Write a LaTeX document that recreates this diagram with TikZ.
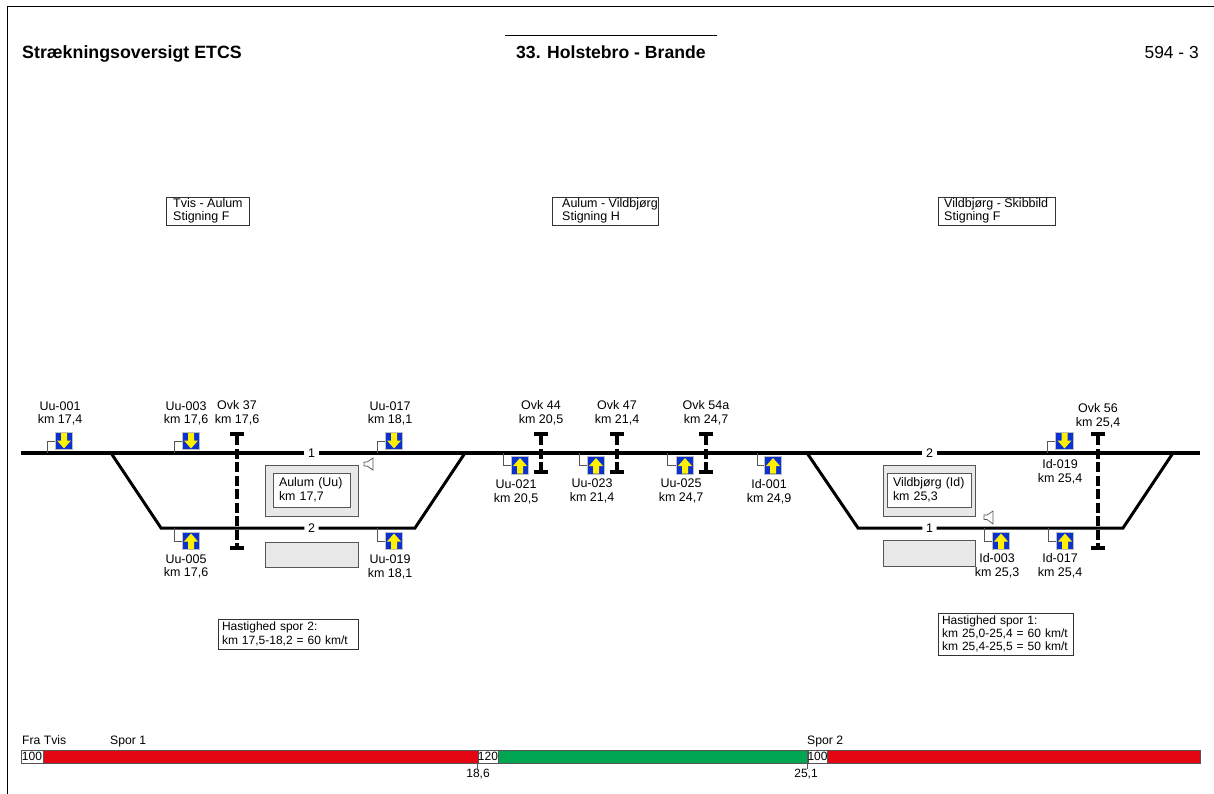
\documentclass[tikz,border=0pt]{standalone}
\usepackage{fontspec}
\setmainfont{Liberation Sans}
\usetikzlibrary{arrows.meta}
\definecolor{sigblue}{HTML}{0A32D2}
\definecolor{sigyellow}{HTML}{FFF000}
\definecolor{barred}{HTML}{E30613}
\definecolor{bargreen}{HTML}{00A651}
\definecolor{stngray}{HTML}{E8E8E8}
\definecolor{edgegray}{HTML}{555555}
\tikzset{
  lbl/.style={align=center,inner sep=0pt,font=\fontsize{12.5}{13.5}\selectfont},
  lblleft/.style={inner sep=0pt,anchor=base west,font=\fontsize{12.2}{13.5}\selectfont},
  track/.style={line width=4.5pt},
  siding/.style={line width=3pt,line join=miter},
  tracknum/.style={lbl,minimum width=14pt,minimum height=8pt},
  stub/.style={line width=0.9pt,draw=edgegray},
  signalbox/.style={minimum size=17.5pt,inner sep=0pt,fill=sigblue,draw=gray!50,line width=0.7pt},
  sigdown/.style={signalbox,path picture={\fill[sigyellow,shift={(path picture bounding box.center)}]
    (-3,-8) -- (3,-8) -- (3,-0.5) -- (7,-0.5) -- (0,7.5) -- (-7,-0.5) -- (-3,-0.5) -- cycle;}},
  sigup/.style={signalbox,path picture={\fill[sigyellow,shift={(path picture bounding box.center)}]
    (-3,8) -- (3,8) -- (3,0.5) -- (7,0.5) -- (0,-7.5) -- (-7,0.5) -- (-3,0.5) -- cycle;}},
  crossing/.style={line width=4pt,dash pattern=on 10pt off 3.5pt,{Bar[width=14pt,length=3.5pt]}-{Bar[width=14pt,length=3.5pt]}},
  stnbox/.style={draw=edgegray,fill=stngray,line width=0.8pt,inner sep=0pt},
  namebox/.style={draw=edgegray,fill=white,line width=0.8pt,inner sep=0pt,align=left,font=\fontsize{12.4}{13.5}\selectfont},
  infobox/.style={draw=black!80,fill=white,line width=0.8pt,inner sep=0pt,align=left,font=\fontsize{12.4}{13.5}\selectfont},
  speedbox/.style={infobox,font=\fontsize{12}{13.4}\selectfont},
  speedseg/.style={draw=edgegray,line width=0.8pt,inner sep=0pt,minimum height=13pt,font=\fontsize{12}{13}\selectfont},
  speaker/.style={draw=edgegray,line width=0.7pt,fill=white}
}
\begin{document}
\begin{tikzpicture}[x=1pt,y=-1pt]
  \useasboundingbox (0,0) rectangle (1214,794);
  \coordinate (frameb) at (7,794);
  \coordinate (framec) at (7,6.5);
  \coordinate (framer) at (1214,6.5);
  \draw[line width=1pt] (frameb) -- (framec) -- (framer);

  \node[lblleft,font=\fontsize{17.8}{20}\selectfont\bfseries] (heading) at (22,58.5) {Strækningsoversigt ETCS};
  \node[lblleft,font=\fontsize{17.6}{20}\selectfont\bfseries] (route) at (516,58.5) {33. Holstebro - Brande};
  \coordinate (rulew) at (505,35.5);
  \coordinate (rulee) at (717,35.5);
  \draw[line width=0.8pt] (rulew) -- (rulee);
  \node[lblleft,anchor=base east,font=\fontsize{17.4}{20}\selectfont] (sheet) at (1199,58.5) {594 - 3};

  \node[infobox,minimum width=83pt,minimum height=28pt] (grad1) at (207.5,211) {};
  \node[lbl,align=left,anchor=west] (grad1txt) at (173,211) {Tvis - Aulum\\Stigning F};
  \node[infobox,minimum width=106pt,minimum height=28pt] (grad2) at (605,211) {};
  \node[lbl,align=left,anchor=west] (grad2txt) at (562,211) {Aulum - Vildbjørg\\Stigning H};
  \node[infobox,minimum width=117pt,minimum height=28pt] (grad3) at (996.5,211) {};
  \node[lbl,align=left,anchor=west] (grad3txt) at (944,211) {Vildbjørg - Skibbild\\Stigning F};

  \node[stnbox,minimum width=93pt,minimum height=51pt] (aulumbg) at (311.5,490.5) {};
  \node[namebox,minimum width=77pt,minimum height=34pt,text width=65pt] (aulum) at (311.5,490) {Aulum (Uu)\\km 17,7};
  \node[stnbox,minimum width=93pt,minimum height=25pt] (aulumpl) at (311.5,554.5) {};
  \node[stnbox,minimum width=92pt,minimum height=51pt] (vildbg) at (929,490.5) {};
  \node[namebox,minimum width=84pt,minimum height=34pt,text width=72pt] (vild) at (929,490) {Vildbjørg (Id)\\km 25,3};
  \node[stnbox,minimum width=92pt,minimum height=26pt] (vildpl) at (929,553) {};

  \coordinate (mainw) at (21,453);
  \coordinate (maine) at (1200,453);
  \node[tracknum] (num1) at (311.5,453) {1};
  \node[tracknum] (num2) at (929.5,453) {2};
  \node[tracknum] (num3) at (311.5,528) {2};
  \node[tracknum] (num4) at (929.5,528) {1};
  \draw[track] (mainw) -- (num1);
  \draw[track] (num1) -- (num2);
  \draw[track] (num2) -- (maine);
  \coordinate (sw1) at (111,453);
  \coordinate (sw2) at (161,528);
  \coordinate (sw3) at (415,528);
  \coordinate (sw4) at (465,453);
  \coordinate (sw5) at (807,453);
  \coordinate (sw6) at (858,528);
  \coordinate (sw7) at (1123,528);
  \coordinate (sw8) at (1173,453);
  \draw[siding] (sw1) -- (sw2) -- (num3);
  \draw[siding] (num3) -- (sw3) -- (sw4);
  \draw[siding] (sw5) -- (sw6) -- (num4);
  \draw[siding] (num4) -- (sw7) -- (sw8);

  \coordinate (ovk37a) at (237,432);
  \coordinate (ovk37b) at (237,550);
  \coordinate (ovk44a) at (541,432);
  \coordinate (ovk44b) at (541,474);
  \coordinate (ovk47a) at (617,432);
  \coordinate (ovk47b) at (617,474);
  \coordinate (ovk54a) at (706,432);
  \coordinate (ovk54b) at (706,474);
  \coordinate (ovk56a) at (1098,432);
  \coordinate (ovk56b) at (1098,550);
  \draw[crossing] (ovk37a) -- (ovk37b);
  \draw[crossing] (ovk44a) -- (ovk44b);
  \draw[crossing] (ovk47a) -- (ovk47b);
  \draw[crossing] (ovk54a) -- (ovk54b);
  \draw[crossing] (ovk56a) -- (ovk56b);
  \node[lbl] (lovk37) at (237,413) {Ovk 37\\km 17,6};
  \node[lbl] (lovk44) at (541,413) {Ovk 44\\km 20,5};
  \node[lbl] (lovk47) at (617,413) {Ovk 47\\km 21,4};
  \node[lbl] (lovk54) at (706,413) {Ovk 54a\\km 24,7};
  \node[lbl] (lovk56) at (1098,416) {Ovk 56\\km 25,4};

  \node[sigdown] (uu001) at (64,441) {};
  \node[sigdown] (uu003) at (191,441) {};
  \node[sigdown] (uu017) at (394,441) {};
  \node[sigdown] (id019) at (1064.5,441) {};
  \node[sigup] (uu005) at (191,541) {};
  \node[sigup] (uu019) at (394,541) {};
  \node[sigup] (uu021) at (520,465.5) {};
  \node[sigup] (uu023) at (596,465.5) {};
  \node[sigup] (uu025) at (685,465.5) {};
  \node[sigup] (id001) at (773,465.5) {};
  \node[sigup] (id003) at (1001,541) {};
  \node[sigup] (id017) at (1065,541) {};

  \coordinate (tuu001) at (47,453);
  \coordinate (tuu003) at (174,453);
  \coordinate (tuu017) at (377,453);
  \coordinate (tid019) at (1047,453);
  \coordinate (tuu005) at (174,528);
  \coordinate (tuu019) at (377,528);
  \coordinate (tuu021) at (503,453);
  \coordinate (tuu023) at (579,453);
  \coordinate (tuu025) at (667,453);
  \coordinate (tid001) at (757,453);
  \coordinate (tid003) at (984,528);
  \coordinate (tid017) at (1048,528);
  \draw[stub] (uu001.west) -| (tuu001);
  \draw[stub] (uu003.west) -| (tuu003);
  \draw[stub] (uu017.west) -| (tuu017);
  \draw[stub] (id019.west) -| (tid019);
  \draw[stub] (uu005.west) -| (tuu005);
  \draw[stub] (uu019.west) -| (tuu019);
  \draw[stub] (uu021.west) -| (tuu021);
  \draw[stub] (uu023.west) -| (tuu023);
  \draw[stub] (uu025.west) -| (tuu025);
  \draw[stub] (id001.west) -| (tid001);
  \draw[stub] (id003.west) -| (tid003);
  \draw[stub] (id017.west) -| (tid017);

  \node[lbl] (luu001) at (60,413.5) {Uu-001\\km 17,4};
  \node[lbl] (luu003) at (186,413.5) {Uu-003\\km 17,6};
  \node[lbl] (luu017) at (390,413.5) {Uu-017\\km 18,1};
  \node[lbl] (luu005) at (186,566.5) {Uu-005\\km 17,6};
  \node[lbl] (luu019) at (390,567) {Uu-019\\km 18,1};
  \node[lbl] (luu021) at (516,492) {Uu-021\\km 20,5};
  \node[lbl] (luu023) at (592,491) {Uu-023\\km 21,4};
  \node[lbl] (luu025) at (681,491) {Uu-025\\km 24,7};
  \node[lbl] (lid001) at (769,492) {Id-001\\km 24,9};
  \node[lbl] (lid019) at (1060,472) {Id-019\\km 25,4};
  \node[lbl] (lid003) at (997,566) {Id-003\\km 25,3};
  \node[lbl] (lid017) at (1060,566) {Id-017\\km 25,4};

  \draw[speaker] (364,462) -- (367,462) -- (373,458) -- (373,470) -- (367,466) -- (364,466) -- cycle;
  \draw[speaker] (984,515) -- (987,515) -- (993,511) -- (993,524) -- (987,519.5) -- (984,519.5) -- cycle;

  \node[speedbox,minimum width=140pt,minimum height=30pt,text width=132pt] (speed2) at (288,634) {Hastighed spor 2:\\km 17,5-18,2 = 60 km/t};
  \node[speedbox,minimum width=135pt,minimum height=42pt,text width=127pt] (speed1) at (1005.5,634) {Hastighed spor 1:\\km 25,0-25,4 = 60 km/t\\km 25,4-25,5 = 50 km/t};

  \node[lblleft] (fra) at (22,744.5) {Fra Tvis};
  \node[lblleft] (spor1) at (110,744.5) {Spor 1};
  \node[lblleft] (spor2) at (807,744.5) {Spor 2};
  \node[speedseg,minimum width=22pt] (v100a) at (32,756.5) {100};
  \node[speedseg,minimum width=435pt,fill=barred] (red1) at (260.5,756.5) {};
  \node[speedseg,minimum width=20pt] (v120) at (488,756.5) {120};
  \node[speedseg,minimum width=310pt,fill=bargreen] (green1) at (653,756.5) {};
  \node[speedseg,minimum width=19pt] (v100b) at (817.5,756.5) {100};
  \node[speedseg,minimum width=373pt,fill=barred] (red2) at (1013.5,756.5) {};
  \node[lbl,font=\fontsize{12}{13}\selectfont] (km186) at (478,774) {18,6};
  \node[lbl,font=\fontsize{12}{13}\selectfont] (km251) at (806,774) {25,1};
  \coordinate (tick1) at (v120.south west);
  \coordinate (tick2) at (v100b.south west);
  \draw[stub] (tick1) -- ++(0,6);
  \draw[stub] (tick2) -- ++(0,6);
\end{tikzpicture}
\end{document}
